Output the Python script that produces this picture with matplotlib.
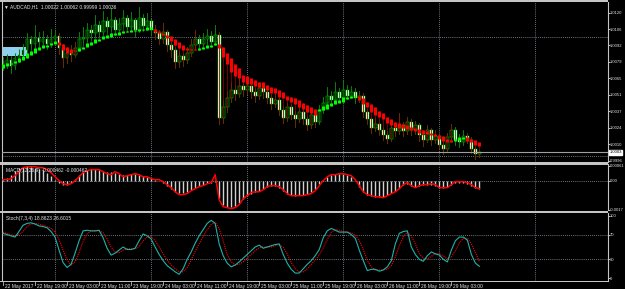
import numpy as np
import matplotlib
matplotlib.use("Agg")
import matplotlib.pyplot as plt
from matplotlib.patches import Rectangle
from matplotlib.lines import Line2D
from matplotlib.transforms import blended_transform_factory

# ---------------- data (AUDCAD H1, 22 May 11:00 .. 29 May 10:00) ----------------
opens = [1.0080, 1.0077, 1.0081, 1.0076, 1.0082, 1.0085, 1.0089, 1.0098, 1.0094, 1.0099,
         1.0096, 1.0098, 1.0094, 1.0098, 1.0101, 1.0091, 1.0082, 1.0087, 1.0085, 1.0091,
         1.0098, 1.0099, 1.0106, 1.0103, 1.0110, 1.0104, 1.0113, 1.0108, 1.0114, 1.0106,
         1.0111, 1.0116, 1.0108, 1.0114, 1.0106, 1.0116, 1.0109, 1.0113, 1.0106, 1.0103,
         1.0098, 1.0104, 1.0093, 1.0089, 1.0079, 1.0084, 1.0081, 1.0087, 1.0093, 1.0098,
         1.0094, 1.0098, 1.0101, 1.0096, 1.0102, 1.0032, 1.0041, 1.0049, 1.0056, 1.0052,
         1.0059, 1.0056, 1.0059, 1.0054, 1.0051, 1.0057, 1.0054, 1.0049, 1.0044, 1.0047,
         1.0039, 1.0032, 1.0041, 1.0035, 1.0031, 1.0037, 1.0031, 1.0026, 1.0035, 1.0029,
         1.0039, 1.0045, 1.0051, 1.0047, 1.0054, 1.0049, 1.0056, 1.0051, 1.0054, 1.0049,
         1.0051, 1.0037, 1.0031, 1.0024, 1.0027, 1.0022, 1.0018, 1.0015, 1.0024, 1.0021,
         1.0026, 1.0021, 1.0029, 1.0022, 1.0026, 1.0018, 1.0014, 1.0022, 1.0014, 1.0017,
         1.0010, 1.0006, 1.0016, 1.0022, 1.0014, 1.0012, 1.0017, 1.0014, 1.0006, 1.00022]
closes = [1.0077, 1.0081, 1.0076, 1.0082, 1.0085, 1.0089, 1.0098, 1.0094, 1.0099, 1.0096,
          1.0098, 1.0094, 1.0098, 1.0101, 1.0091, 1.0082, 1.0087, 1.0085, 1.0091, 1.0098,
          1.0099, 1.0106, 1.0103, 1.0110, 1.0104, 1.0113, 1.0108, 1.0114, 1.0106, 1.0111,
          1.0116, 1.0108, 1.0114, 1.0106, 1.0116, 1.0109, 1.0113, 1.0106, 1.0103, 1.0098,
          1.0104, 1.0093, 1.0089, 1.0079, 1.0084, 1.0081, 1.0087, 1.0093, 1.0098, 1.0094,
          1.0098, 1.0101, 1.0096, 1.0102, 1.0032, 1.0041, 1.0049, 1.0056, 1.0052, 1.0059,
          1.0056, 1.0059, 1.0054, 1.0051, 1.0057, 1.0054, 1.0049, 1.0044, 1.0047, 1.0039,
          1.0032, 1.0041, 1.0035, 1.0031, 1.0037, 1.0031, 1.0026, 1.0035, 1.0029, 1.0039,
          1.0045, 1.0051, 1.0047, 1.0054, 1.0049, 1.0056, 1.0051, 1.0054, 1.0049, 1.0051,
          1.0037, 1.0031, 1.0024, 1.0027, 1.0022, 1.0018, 1.0015, 1.0024, 1.0021, 1.0026,
          1.0021, 1.0029, 1.0022, 1.0026, 1.0018, 1.0014, 1.0022, 1.0014, 1.0017, 1.0010,
          1.0006, 1.0016, 1.0022, 1.0014, 1.0012, 1.0017, 1.0014, 1.0006, 1.0002, 1.00036]
highs = [1.0083, 1.0086, 1.0084, 1.0087, 1.0090, 1.0094, 1.0103, 1.0101, 1.0110, 1.0104,
         1.0105, 1.0102, 1.0107, 1.0106, 1.0103, 1.0094, 1.0092, 1.0093, 1.0096, 1.0104,
         1.0108, 1.0112, 1.0110, 1.0118, 1.0113, 1.0122, 1.0117, 1.0124, 1.0117, 1.0116,
         1.0123, 1.0118, 1.0121, 1.0116, 1.0125, 1.0119, 1.0120, 1.0116, 1.0110, 1.0106,
         1.0112, 1.0106, 1.0096, 1.0092, 1.0088, 1.0087, 1.0092, 1.0098, 1.0106, 1.0102,
         1.0103, 1.0107, 1.0105, 1.0110, 1.0104, 1.0047, 1.0055, 1.0062, 1.0060, 1.0066,
         1.0063, 1.0064, 1.0062, 1.0058, 1.0062, 1.0060, 1.0058, 1.0052, 1.0053, 1.0050,
         1.0042, 1.0046, 1.0044, 1.0038, 1.0042, 1.0040, 1.0034, 1.0039, 1.0037, 1.0043,
         1.0050, 1.0058, 1.0055, 1.0062, 1.0057, 1.0064, 1.0060, 1.0059, 1.0057, 1.0055,
         1.0053, 1.0040, 1.0033, 1.0032, 1.0029, 1.0025, 1.0021, 1.0028, 1.0027, 1.0036,
         1.0029, 1.0033, 1.0031, 1.0030, 1.0028, 1.0021, 1.0026, 1.0024, 1.0022, 1.0019,
         1.0013, 1.0020, 1.0027, 1.0025, 1.0019, 1.0022, 1.0020, 1.0016, 1.0009, 1.00062]
lows = [1.0072, 1.0074, 1.0070, 1.0073, 1.0079, 1.0082, 1.0086, 1.0090, 1.0091, 1.0092,
        1.0093, 1.0090, 1.0092, 1.0095, 1.0086, 1.0075, 1.0078, 1.0080, 1.0083, 1.0088,
        1.0094, 1.0096, 1.0098, 1.0100, 1.0100, 1.0102, 1.0104, 1.0105, 1.0102, 1.0103,
        1.0108, 1.0104, 1.0105, 1.0100, 1.0104, 1.0105, 1.0106, 1.0102, 1.0098, 1.0094,
        1.0095, 1.0088, 1.0083, 1.0074, 1.0075, 1.0076, 1.0078, 1.0084, 1.0090, 1.0089,
        1.0091, 1.0094, 1.0092, 1.0093, 1.0027, 1.0028, 1.0037, 1.0046, 1.0047, 1.0050,
        1.0051, 1.0052, 1.0049, 1.0046, 1.0048, 1.0049, 1.0045, 1.0040, 1.0041, 1.0035,
        1.0028, 1.0030, 1.0031, 1.0025, 1.0029, 1.0027, 1.0022, 1.0024, 1.0025, 1.0027,
        1.0036, 1.0042, 1.0043, 1.0045, 1.0046, 1.0047, 1.0048, 1.0049, 1.0045, 1.0046,
        1.0033, 1.0027, 1.0020, 1.0021, 1.0018, 1.0014, 1.0011, 1.0013, 1.0017, 1.0019,
        1.0017, 1.0019, 1.0018, 1.0019, 1.0013, 1.0009, 1.0012, 1.0010, 1.0011, 1.0006,
        1.0002, 1.0004, 1.0013, 1.0010, 1.0008, 1.0010, 1.0011, 1.0003, 0.9998, 0.99999]

# Heiken Ashi body
ha_open = [1.0074, 1.0076, 1.0077, 1.0078, 1.0079, 1.0081, 1.0082, 1.0085, 1.0087, 1.0089,
           1.0091, 1.0092, 1.0093, 1.0094, 1.0096, 1.0094, 1.0092, 1.0090, 1.0089, 1.0088,
           1.0090, 1.0092, 1.0093, 1.0095, 1.0097, 1.0098, 1.0099, 1.0100, 1.0102, 1.0102,
           1.0103, 1.0104, 1.0104, 1.0105, 1.0105, 1.0106, 1.0106, 1.0107, 1.0107, 1.0105,
           1.0103, 1.0102, 1.0101, 1.0098, 1.0096, 1.0093, 1.0091, 1.0090, 1.0090, 1.0089,
           1.0090, 1.0091, 1.0092, 1.0093, 1.0094, 1.0092, 1.0087, 1.0082, 1.0077, 1.0074,
           1.0068, 1.0067, 1.0066, 1.0064, 1.0062, 1.0062, 1.0060, 1.0058, 1.0057, 1.0056,
           1.0054, 1.0051, 1.0050, 1.0049, 1.0047, 1.0045, 1.0043, 1.0041, 1.0040, 1.0038,
           1.0039, 1.0040, 1.0042, 1.0044, 1.0045, 1.0046, 1.0048, 1.0049, 1.0050, 1.0051,
           1.0049, 1.0046, 1.0044, 1.0041, 1.0038, 1.0036, 1.0033, 1.0031, 1.0029, 1.0028,
           1.0027, 1.0026, 1.0025, 1.0024, 1.0023, 1.0022, 1.0021, 1.0020, 1.0019, 1.0018,
           1.0017, 1.0015, 1.0014, 1.0013, 1.0014, 1.0015, 1.0016, 1.0015, 1.0014, 1.0012]
ha_close = [1.0077, 1.0078, 1.0078, 1.0080, 1.0082, 1.0084, 1.0087, 1.0088, 1.0091, 1.0092,
            1.0093, 1.0093, 1.0095, 1.0097, 1.0093, 1.0089, 1.0087, 1.0087, 1.0088, 1.0091,
            1.0092, 1.0095, 1.0096, 1.0098, 1.0098, 1.0101, 1.0102, 1.0103, 1.0103, 1.0104,
            1.0105, 1.0105, 1.0106, 1.0106, 1.0107, 1.0107, 1.0108, 1.0108, 1.0104, 1.0103,
            1.0102, 1.0099, 1.0097, 1.0093, 1.0091, 1.0089, 1.0089, 1.0089, 1.0089, 1.0091,
            1.0092, 1.0093, 1.0093, 1.0095, 1.0091, 1.0083, 1.0077, 1.0071, 1.0067, 1.0066,
            1.0062, 1.0061, 1.0061, 1.0059, 1.0058, 1.0057, 1.0056, 1.0053, 1.0053, 1.0050,
            1.0049, 1.0047, 1.0046, 1.0044, 1.0041, 1.0040, 1.0037, 1.0036, 1.0035, 1.0040,
            1.0042, 1.0044, 1.0045, 1.0047, 1.0047, 1.0050, 1.0050, 1.0051, 1.0051, 1.0047,
            1.0044, 1.0041, 1.0037, 1.0035, 1.0033, 1.0031, 1.0028, 1.0026, 1.0025, 1.0024,
            1.0024, 1.0023, 1.0022, 1.0021, 1.0020, 1.0019, 1.0019, 1.0018, 1.0017, 1.0015,
            1.0013, 1.0012, 1.0012, 1.0015, 1.0016, 1.0016, 1.0013, 1.0012, 1.0010, 1.0009]

macd_main = [0.00006, 0.00018, 0.00035, 0.00059, 0.00076, 0.00082, 0.00088, 0.00082, 0.00076, 0.00070,
             0.00065, 0.00047, 0.00029, 0.00006, -0.00012, -0.00023, -0.00023, -0.00012, 0.00012, 0.00035,
             0.00053, 0.00065, 0.00070, 0.00070, 0.00065, 0.00059, 0.00053, 0.00053, 0.00047, 0.00041,
             0.00035, 0.00035, 0.00041, 0.00041, 0.00035, 0.00029, 0.00023, 0.00018, 0.00006, 0.0,
             -0.00012, -0.00029, -0.00047, -0.00065, -0.00070, -0.00070, -0.00065, -0.00053, -0.00041, -0.00029,
             -0.00023, -0.00012, -0.00012, -0.00006, -0.00100, -0.00141, -0.00153, -0.00153, -0.00147, -0.00129,
             -0.00106, -0.00088, -0.00076, -0.00065, -0.00059, -0.00047, -0.00035, -0.00029, -0.00029, -0.00041,
             -0.00059, -0.00076, -0.00082, -0.00088, -0.00082, -0.00082, -0.00076, -0.00065, -0.00047, -0.00018,
             0.00006, 0.00023, 0.00035, 0.00041, 0.00041, 0.00041, 0.00035, 0.00023, 0.0, -0.00035,
             -0.00065, -0.00082, -0.00088, -0.00094, -0.00094, -0.00094, -0.00082, -0.00070, -0.00059, -0.00041,
             -0.00023, -0.00018, -0.00029, -0.00035, -0.00029, -0.00023, -0.00023, -0.00023, -0.00029, -0.00041,
             -0.00041, -0.00035, -0.00023, -0.00012, -0.00012, -0.00012, -0.00018, -0.00029, -0.00041, -0.00046]
macd_signal = [0.00006, 0.00006, 0.00012, 0.00029, 0.00053, 0.00076, 0.00082, 0.00082, 0.00082, 0.00076,
               0.00076, 0.00065, 0.00047, 0.00023, 0.0, -0.00018, -0.00023, -0.00018, 0.0, 0.00023,
               0.00047, 0.00059, 0.00065, 0.00065, 0.00065, 0.00053, 0.00041, 0.00035, 0.00053, 0.00041,
               0.00023, 0.00029, 0.00035, 0.00041, 0.00035, 0.00023, 0.00023, 0.00012, 0.00006, 0.00006,
               -0.00006, -0.00023, -0.00041, -0.00065, -0.00082, -0.00082, -0.00076, -0.00059, -0.00047, -0.00035,
               -0.00029, -0.00018, -0.00012, 0.00035, -0.00112, -0.00153, -0.00158, -0.00164, -0.00158, -0.00141,
               -0.00106, -0.00088, -0.00070, -0.00065, -0.00065, -0.00053, -0.00035, -0.00029, -0.00029, -0.00035,
               -0.00053, -0.00076, -0.00088, -0.00088, -0.00088, -0.00088, -0.00082, -0.00076, -0.00059, -0.00029,
               0.0, 0.00023, 0.00035, 0.00035, 0.00041, 0.00041, 0.00035, 0.00029, 0.00006, -0.00029,
               -0.00065, -0.00082, -0.00088, -0.00094, -0.00094, -0.00100, -0.00088, -0.00076, -0.00065, -0.00047,
               -0.00023, -0.00012, -0.00029, -0.00041, -0.00029, -0.00023, -0.00023, -0.00018, -0.00023, -0.00041,
               -0.00041, -0.00041, -0.00023, -0.00006, -0.00006, -0.00006, -0.00012, -0.00023, -0.00041, -0.00046]

stoch_main = [72, 70, 68, 66, 75, 85, 88, 89, 87, 84,
              83, 81, 75, 66, 45, 25, 17, 22, 40, 60,
              76, 77, 76, 76, 77, 65, 48, 37, 40, 45,
              50, 46, 46, 48, 60, 71, 68, 63, 50, 38,
              28, 20, 15, 10, 6, 15, 30, 42, 56, 68,
              78, 88, 93, 88, 55, 36, 24, 18, 21, 26,
              32, 38, 44, 50, 53, 48, 50, 52, 54, 55,
              38, 24, 14, 8, 8, 15, 22, 28, 36, 46,
              65, 76, 80, 77, 74, 74, 74, 70, 64, 45,
              28, 12, 14, 14, 11, 13, 18, 28, 55, 72,
              75, 76, 50, 38, 30, 27, 36, 42, 39, 37,
              30, 26, 45, 60, 66, 66, 61, 38, 24, 18.86]
stoch_signal = [74, 72, 70, 68, 70, 75, 83, 87, 88, 87,
                85, 83, 80, 74, 62, 45, 29, 21, 26, 41,
                59, 71, 76, 76, 76, 73, 63, 50, 42, 41,
                45, 47, 47, 47, 51, 60, 66, 67, 60, 50,
                39, 29, 21, 15, 10, 10, 17, 29, 43, 55,
                67, 78, 86, 90, 79, 60, 38, 26, 21, 22,
                26, 32, 38, 44, 49, 50, 50, 50, 52, 54,
                49, 39, 25, 15, 10, 10, 15, 22, 29, 37,
                49, 62, 74, 78, 77, 75, 74, 73, 69, 60,
                46, 28, 18, 13, 13, 13, 14, 20, 34, 52,
                67, 74, 67, 55, 39, 32, 31, 35, 39, 39,
                35, 31, 34, 44, 57, 64, 64, 55, 41, 26.60]

# light blue rectangle object (bars, prices)
zone_bars = (-1, 6)
zone_prices = (1.0084, 1.0092)

day_bars = [13, 37, 61, 85, 109, 133]          # dotted vertical grid (midnights)
price_grid = [1.0100, 1.0000]
price_ticks = [1.01204, 1.01066, 1.00929, 1.00791, 1.00654, 1.00516, 1.00379, 1.00241, 1.00104, 0.99966]
price_tick_labels = ["1.0120", "1.0106", "1.0092", "1.0079", "1.0065", "1.0051", "1.0037", "1.0024", "1.0010", "0.9996"]
macd_ticks = [0.00088, 0.0, -0.0017]
macd_tick_labels = ["0.00061", "0.00", "-0.0017"]
stoch_ticks = [100, 70, 30, 0]
stoch_levels = [70, 30]
time_bars = list(range(0, 120, 8))
time_labels = ["22 May 2017", "22 May 19:00", "23 May 03:00", "23 May 11:00", "23 May 19:00",
               "24 May 03:00", "24 May 11:00", "24 May 19:00", "25 May 03:00", "25 May 11:00",
               "25 May 19:00", "26 May 03:00", "26 May 11:00", "26 May 19:00", "29 May 03:00"]

title_main = "\u25bc AUDCAD,H1  1.00022 1.00062 0.99999 1.00036"
title_macd = "MACD(12,26,9) -0.000462 -0.000462"
title_stoch = "Stoch(7,3,4) 18.8623 26.6015"

# ---------------- styling ----------------
W, H = 625, 289
FONT = ["Liberation Sans", "DejaVu Sans"]
FS = 3.5
FS_AX = 3.0
LIME = "#00ee00"
GRID = "#8e9aa6"
FRAME = "#c4c4c4"
TXT = "#e6e6e6"
plt.rcParams["font.family"] = FONT

fig = plt.figure(figsize=(W / 100, H / 100), dpi=100, facecolor="black")


def box(top, bottom, left=2.0, right=607.5):
    return [left / W, 1 - bottom / H, (right - left) / W, (bottom - top) / H]


ax_p = fig.add_axes(box(1.5, 161.5))
ax_m = fig.add_axes(box(164.5, 210.5))
ax_s = fig.add_axes(box(213.0, 281.0))

x = np.arange(len(closes))
o, c, h, l = map(np.array, (opens, closes, highs, lows))
hao, hac = np.array(ha_open), np.array(ha_close)

for ax in (ax_p, ax_m, ax_s):
    ax.set_facecolor("black")
    ax.set_xlim(-0.25, 151)
    ax.set_xticks([])
    ax.yaxis.tick_right()
    ax.tick_params(axis="y", length=1.2, width=0.6, colors=TXT, labelsize=FS_AX, pad=0.4)
    for side in ("top", "bottom"):
        ax.spines[side].set_visible(False)
    for side in ("left", "right"):
        ax.spines[side].set_color(FRAME)
        ax.spines[side].set_linewidth(0.8)
    for b in day_bars:
        ax.axvline(b, color=GRID, lw=0.6, ls=(0, (1, 1.5)), zorder=0.5)

# ---- price panel ----
ax_p.set_ylim(0.99958, 1.01297)
ax_p.set_yticks(price_ticks)
ax_p.set_yticklabels(price_tick_labels)
for p in price_grid:
    ax_p.axhline(p, color=GRID, lw=0.6, ls=(0, (1, 1.5)), zorder=0.5)
ax_p.add_patch(Rectangle((zone_bars[0], zone_prices[0]), zone_bars[1] - zone_bars[0],
                         zone_prices[1] - zone_prices[0], color="#8fd0f2", lw=0, zorder=0.8))

bull = c >= o
ax_p.vlines(x, l, h, color=LIME, lw=0.7, zorder=2)
body_lo = np.minimum(o, c)
body_h = np.maximum(np.abs(c - o), 0.00004)
ax_p.bar(x, body_h, bottom=body_lo, width=0.72, color=np.where(bull, "black", "white"),
         edgecolor=LIME, linewidth=0.35, zorder=2.5)

ha_bull = hac >= hao
ha_hi = np.maximum(h, np.maximum(hao, hac))
ha_lo = np.minimum(l, np.minimum(hao, hac))
ax_p.vlines(x, ha_lo, ha_hi, colors=np.where(ha_bull, "#0a6a0a", "#8b0000"), lw=0.6, zorder=3)
ax_p.vlines(x, hao, hac, colors=np.where(ha_bull, "#00ff00", "#ff0000"), lw=2.2, zorder=4)

ax_p.axhline(c[-1], color="#a0a0a0", lw=0.8, zorder=5)
ax_p.text(1.003, c[-1], "1.0003", transform=blended_transform_factory(ax_p.transAxes, ax_p.transData),
          fontsize=FS_AX, color="black", va="center", ha="left", zorder=6,
          bbox=dict(boxstyle="square,pad=0.12", fc="white", ec="white"), clip_on=False)
ax_p.text(0.004, 0.985, title_main, transform=ax_p.transAxes, fontsize=FS, color=TXT,
          va="top", ha="left", zorder=7)

# ---- MACD panel ----
ax_m.set_ylim(-0.00175, 0.00095)
ax_m.set_yticks(macd_ticks)
ax_m.set_yticklabels(macd_tick_labels)
ax_m.axhline(0, color=GRID, lw=0.6, ls=(0, (1, 1.5)), zorder=0.5)
ax_m.vlines(x, 0, macd_main, color="#d2d2d2", lw=1.0, zorder=2)
ax_m.plot(x, macd_signal, color="#ff0000", lw=1.1, zorder=3)
ax_m.text(0.006, 0.93, title_macd, transform=ax_m.transAxes, fontsize=FS, color=TXT,
          va="top", ha="left", zorder=7)

# ---- Stochastic panel ----
ax_s.set_ylim(-4.8, 104.8)
ax_s.set_yticks(stoch_ticks)
ax_s.set_yticklabels([str(t) for t in stoch_ticks])
for lev in stoch_levels:
    ax_s.axhline(lev, color=GRID, lw=0.6, ls=(0, (1, 1.5)), zorder=0.5)
ax_s.plot(x, stoch_main, color="#20b2aa", lw=0.8, zorder=3)
ax_s.plot(x, stoch_signal, color="#ff0000", lw=0.8, ls=(0, (1, 1)), zorder=2)
ax_s.text(0.006, 0.95, title_stoch, transform=ax_s.transAxes, fontsize=FS, color=TXT,
          va="top", ha="left", zorder=7)

# ---- frame: separators, top and bottom lines ----
for top, bot in [(0.3, 1.6), (161.5, 164.5), (210.5, 213.0), (280.6, 281.6)]:
    fig.patches.append(Rectangle((0, 1 - bot / H), 608 / W, (bot - top) / H,
                                 transform=fig.transFigure, color=FRAME, lw=0))

# ---- time axis ----
tt = blended_transform_factory(ax_s.transData, fig.transFigure)
for b, lab in zip(time_bars, time_labels):
    ax_s.add_line(Line2D([b, b], [1 - 281.5 / H, 1 - 284.5 / H], transform=tt,
                         color=FRAME, lw=0.6, clip_on=False))
    ax_s.text(b + 0.4, 1 - 286.2 / H, lab, transform=tt, fontsize=FS, color=TXT,
              va="center", ha="left", clip_on=False)

fig.savefig("out.png", dpi=100, facecolor="black")
